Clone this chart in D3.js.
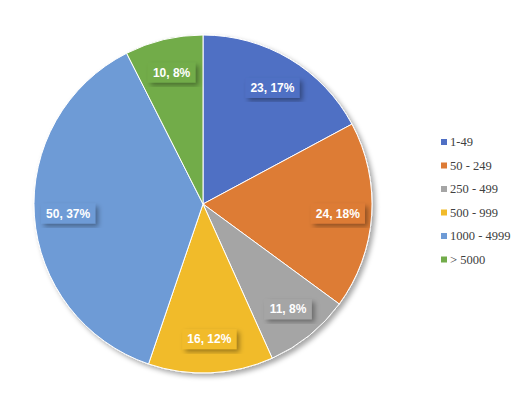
<!DOCTYPE html>
<html><head><script src="https://cdn.jsdelivr.net/npm/d3@7"></script>
<style>body{margin:0;background:#fff}</style></head>
<body><svg id="c" width="520" height="403"></svg>
<script>
const categories=["1-49","50 - 249","250 - 499","500 - 999","1000 - 4999","> 5000"];
const values=[23,24,11,16,50,10];
const percents=["17%","18%","8%","12%","37%","8%"];
const colors=["#4f6fc4","#dd7b36","#a5a5a5","#f1bb2b","#6e9bd6","#72ac4a"];
const svg=d3.select("#c");
const defs=svg.append("defs");
const f=defs.append("filter").attr("id","sh").attr("x","-20%").attr("y","-20%").attr("width","140%").attr("height","140%");
f.append("feDropShadow").attr("dx",3).attr("dy",3).attr("stdDeviation",2.5).attr("flood-color","#000").attr("flood-opacity",0.35);
const cx=203,cy=204,r=169;
const g=svg.append("g").attr("transform",`translate(${cx},${cy})`);
const pie=d3.pie().sort(null)(values);
const arc=d3.arc().innerRadius(0).outerRadius(r);
g.append("g").attr("filter","url(#sh)").selectAll("path").data(pie).join("path")
 .attr("d",arc).attr("fill",(d,i)=>colors[i]).attr("stroke","#fff").attr("stroke-width",1);
const la=d3.arc().innerRadius(r*0.8).outerRadius(r*0.8);
pie.forEach((d,i)=>{
 const [x,y]=la.centroid(d);
 const t=values[i]+", "+percents[i];
 const lg=g.append("g").attr("transform",`translate(${x},${y})`);
 const w=t.length*6.6+8;
 lg.append("rect").attr("x",-w/2).attr("y",-10).attr("width",w).attr("height",20).attr("fill",colors[i]).attr("filter","url(#sh)");
 lg.append("text").attr("text-anchor","middle").attr("dy","0.35em").attr("fill","#fff")
  .attr("font-family","Liberation Sans, Arial, sans-serif").attr("font-weight","bold").attr("font-size",12).text(t);
});
const leg=svg.append("g").attr("transform","translate(441,142)");
categories.forEach((c,i)=>{
 const row=leg.append("g").attr("transform",`translate(0,${i*23.5})`);
 row.append("rect").attr("x",0).attr("y",-3).attr("width",6).attr("height",6).attr("fill",colors[i]);
 row.append("text").attr("x",9).attr("dy","0.35em").attr("font-family","Liberation Serif, Times New Roman, serif").attr("font-size",12.5).attr("fill","#404040").text(c);
});
</script></body></html>
